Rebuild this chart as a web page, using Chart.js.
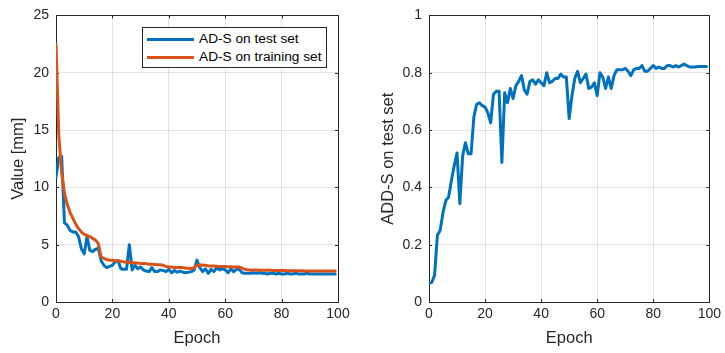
<!DOCTYPE html>
<html>
<head>
<meta charset="utf-8">
<script src="https://cdn.jsdelivr.net/npm/chart.js@4.4.1/dist/chart.umd.min.js"></script>
<style>
  html, body { margin: 0; padding: 0; background: #fff; }
  #wrap { position: relative; width: 725px; height: 353px; overflow: hidden; font-family: "Liberation Sans", Arial, sans-serif; }
  #c1box { position: absolute; left: 0; top: 0; width: 362px; height: 353px; }
  #c2box { position: absolute; left: 362px; top: 0; width: 363px; height: 353px; }
  #legend { position: absolute; left: 142px; top: 27px; width: 183px; height: 39px; border: 1px solid #262626; background: #fff; z-index: 5; }
  .row { position: absolute; left: 0; height: 18px; width: 183px; }
  .sw { position: absolute; left: 4px; top: 8px; width: 47px; height: 3px; }
  .lt { position: absolute; left: 56px; top: 0; font-size: 13.7px; line-height: 18px; color: #000; white-space: nowrap; }
</style>
</head>
<body>
<div id="wrap">
  <div id="c1box"><canvas id="c1" width="362" height="353"></canvas></div>
  <div id="c2box"><canvas id="c2" width="363" height="353"></canvas></div>
  <div id="legend">
    <div class="row" style="top:2px"><div class="sw" style="background:#0072BD"></div><div class="lt">AD-S on test set</div></div>
    <div class="row" style="top:20px"><div class="sw" style="background:#D95319"></div><div class="lt">AD-S on training set</div></div>
  </div>
</div>
<script>
const epochs = [0,1,2,3,4,5,6,7,8,9,10,11,12,13,14,15,16,17,18,19,20,21,22,23,24,25,26,27,28,29,30,31,32,33,34,35,36,37,38,39,40,41,42,43,44,45,46,47,48,49,50,51,52,53,54,55,56,57,58,59,60,61,62,63,64,65,66,67,68,69,70,71,72,73,74,75,76,77,78,79,80,81,82,83,84,85,86,87,88,89,90,91,92,93,94,95,96,97,98,99];

const adsTest = [10.9,12.6,12.7,6.9,6.7,6.25,6.1,6.1,5.7,4.65,4.2,5.7,4.5,4.4,4.6,4.7,3.6,3.2,3.0,3.1,3.2,3.5,3.6,2.9,2.85,2.85,5.0,2.8,3.2,2.9,3.05,2.8,2.7,2.65,3.0,2.65,2.65,2.8,2.75,2.65,2.85,2.55,2.75,2.6,2.7,2.6,2.55,2.6,2.65,2.8,3.65,3.0,2.65,2.9,2.5,2.85,2.65,3.0,2.8,2.9,2.8,2.55,2.9,2.65,2.85,2.85,2.55,2.5,2.5,2.5,2.55,2.5,2.55,2.5,2.5,2.45,2.5,2.5,2.45,2.5,2.45,2.45,2.5,2.45,2.45,2.5,2.45,2.45,2.45,2.5,2.45,2.45,2.45,2.45,2.45,2.45,2.45,2.45,2.45,2.45];

const adsTrain = [22.5,14.5,11.3,9.5,8.5,7.8,7.3,6.8,6.4,6.1,5.9,5.8,5.7,5.55,5.4,5.1,3.95,3.8,3.7,3.65,3.65,3.6,3.6,3.55,3.5,3.5,3.45,3.45,3.4,3.4,3.35,3.35,3.35,3.3,3.3,3.28,3.25,3.25,3.2,3.1,3.05,3.05,3.0,3.0,3.0,3.0,2.95,2.95,2.92,3.0,3.2,3.25,3.2,3.2,3.15,3.15,3.15,3.12,3.1,3.1,3.1,3.08,3.08,3.05,3.05,3.05,2.95,2.85,2.82,2.8,2.8,2.8,2.78,2.78,2.78,2.76,2.76,2.75,2.75,2.75,2.74,2.74,2.73,2.73,2.72,2.72,2.72,2.72,2.71,2.71,2.71,2.7,2.7,2.7,2.7,2.7,2.7,2.7,2.7,2.7];

const addsTest = [0.066,0.068,0.094,0.233,0.25,0.313,0.354,0.366,0.424,0.476,0.52,0.343,0.51,0.556,0.517,0.517,0.645,0.69,0.695,0.685,0.68,0.66,0.625,0.725,0.735,0.735,0.487,0.73,0.695,0.745,0.71,0.755,0.77,0.79,0.74,0.725,0.77,0.775,0.76,0.775,0.765,0.755,0.8,0.765,0.77,0.78,0.78,0.795,0.785,0.785,0.64,0.72,0.78,0.805,0.765,0.78,0.795,0.745,0.75,0.765,0.72,0.8,0.785,0.745,0.785,0.745,0.79,0.81,0.81,0.81,0.815,0.805,0.79,0.81,0.815,0.815,0.825,0.805,0.805,0.815,0.825,0.815,0.82,0.815,0.815,0.825,0.825,0.82,0.825,0.82,0.825,0.83,0.825,0.82,0.82,0.82,0.822,0.822,0.822,0.822];

const xTicks = [0,20,40,60,80,100];
const leftYTicks = [0,5,10,15,20,25];
const rightYTicks = [0,0.2,0.4,0.6,0.8,1];

const FONT = '"Liberation Sans", Arial, sans-serif';
const AX = '#262626';
const GRID = 'rgba(38,38,38,0.13)';

const boxPlugin = {
  id: 'boxTicks',
  beforeDatasetsDraw(chart) {
    const ctx = chart.ctx, a = chart.chartArea;
    const xs = chart.scales.x, ys = chart.scales.y;
    ctx.save();
    ctx.strokeStyle = AX;
    ctx.lineWidth = 1;
    ctx.beginPath();
    ctx.rect(Math.round(a.left) + 0.5, Math.round(a.top) + 0.5, Math.round(a.right - a.left), Math.round(a.bottom - a.top));
    ctx.stroke();
    const L = 3;
    ctx.beginPath();
    xs.ticks.forEach(t => {
      const px = Math.round(xs.getPixelForValue(t.value)) + 0.5;
      ctx.moveTo(px, a.bottom); ctx.lineTo(px, a.bottom - L);
      ctx.moveTo(px, a.top); ctx.lineTo(px, a.top + L);
    });
    ys.ticks.forEach(t => {
      const py = Math.round(ys.getPixelForValue(t.value)) + 0.5;
      ctx.moveTo(a.left, py); ctx.lineTo(a.left + L, py);
      ctx.moveTo(a.right, py); ctx.lineTo(a.right - L, py);
    });
    ctx.stroke();
    ctx.restore();
  }
};

function pts(vals) { return epochs.map((e, i) => ({x: e, y: vals[i]})); }

function makeChart(id, datasets, yTicks, yMax, yTitle, yAxisWidth, pad, yTitlePad) {
  return new Chart(document.getElementById(id), {
    type: 'line',
    data: { datasets },
    options: {
      responsive: false,
      animation: false,
      events: [],
      layout: { padding: pad },
      plugins: { legend: { display: false }, tooltip: { enabled: false } },
      elements: { point: { radius: 0 }, line: { tension: 0, borderWidth: 3, borderCapStyle: 'round', borderJoinStyle: 'round' } },
      scales: {
        x: {
          type: 'linear', min: 0, max: 100,
          afterBuildTicks(s) { s.ticks = xTicks.map(v => ({value: v})); },
          ticks: { color: AX, font: { family: FONT, size: 14 }, padding: 4, maxRotation: 0, callback: v => String(v) },
          grid: { color: GRID, drawTicks: false },
          border: { color: AX, width: 1 },
          title: { display: true, text: 'Epoch', color: AX, font: { family: FONT, size: 16.5 }, padding: { top: 0, bottom: 5 } },
          afterFit(s) { s.height = 51; }
        },
        y: {
          type: 'linear', min: 0, max: yMax,
          afterBuildTicks(s) { s.ticks = yTicks.map(v => ({value: v})); },
          ticks: { color: AX, font: { family: FONT, size: 14 }, padding: 7, callback: v => String(v) },
          grid: { color: GRID, drawTicks: false },
          border: { color: AX, width: 1 },
          title: { display: true, text: yTitle, color: AX, font: { family: FONT, size: 16.5 }, padding: { top: yTitlePad, bottom: 0 } },
          afterFit(s) { s.width = yAxisWidth; }
        }
      }
    },
    plugins: [boxPlugin]
  });
}

makeChart('c1', [
  { data: pts(adsTest), borderColor: '#0072BD', backgroundColor: '#0072BD', order: 2 },
  { data: pts(adsTrain), borderColor: '#D95319', backgroundColor: '#D95319', order: 1 }
], leftYTicks, 25, 'Value [mm]', 56, { left: 0, right: 24, top: 14, bottom: 0 }, 9);

makeChart('c2', [
  { data: pts(addsTest), borderColor: '#0072BD', backgroundColor: '#0072BD' }
], rightYTicks, 1, 'ADD-S on test set', 67, { left: 0, right: 14, top: 14, bottom: 0 }, 17);
</script>
</body>
</html>
